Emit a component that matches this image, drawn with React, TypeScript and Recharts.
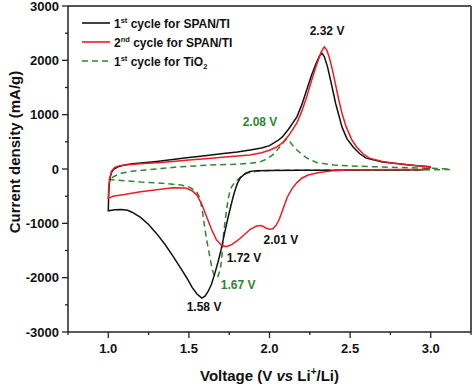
import React from "react"
import {
  LineChart,
  Line,
  XAxis,
  YAxis,
  Legend,
  ReferenceLine,
  ReferenceDot,
} from "recharts"

const FONT = '"Liberation Sans", Arial, sans-serif'

// 1st cycle SPAN/TI (cathodic 3.0 -> 1.0, then anodic 1.0 -> 3.0)
const span1Voltage = [
  3.0, 2.98, 2.95, 2.8, 2.6, 2.4, 2.2, 2.0, 1.92, 1.88, 1.85, 1.82, 1.8, 1.78, 1.76, 1.74, 1.72, 1.7, 1.68,
  1.66, 1.64, 1.62, 1.6, 1.58, 1.55, 1.52, 1.49, 1.45, 1.4, 1.35, 1.3, 1.25, 1.2, 1.15, 1.12, 1.08, 1.04, 1.0,
  1.002, 1.006, 1.012, 1.02, 1.035, 1.06, 1.1, 1.15, 1.2, 1.3, 1.4, 1.5, 1.6, 1.7, 1.8, 1.88, 1.95, 2.0,
  2.05, 2.08, 2.12, 2.17, 2.2, 2.23, 2.26, 2.29, 2.31, 2.325, 2.34, 2.36, 2.38, 2.41, 2.45, 2.48, 2.52,
  2.56, 2.6, 2.7, 2.8, 2.9, 3.0,
]
const span1Current = [
  40, 0, -15, -18, -20, -22, -25, -28, -30, -45, -80, -160, -270, -450, -680, -930, -1200, -1480, -1720,
  -1930, -2120, -2250, -2340, -2375, -2300, -2180, -2020, -1830, -1600, -1380, -1190, -1020, -890, -800,
  -760, -745, -750, -770,
  -500, -280, -150, -60, 0, 40, 72, 95, 110, 140, 175, 210, 245, 280, 315, 350, 385, 430,
  520, 590, 740, 960, 1180, 1450, 1720, 1950, 2080, 2130, 2070, 1880, 1620, 1210, 770, 560, 400,
  280, 200, 130, 95, 65, 40,
]

// 2nd cycle SPAN/TI
const span2Voltage = [
  3.0, 2.98, 2.95, 2.8, 2.6, 2.5, 2.4, 2.3, 2.24, 2.2, 2.17, 2.14, 2.11, 2.08, 2.06, 2.04, 2.02, 2.0, 1.98,
  1.95, 1.92, 1.88, 1.84, 1.8, 1.76, 1.73, 1.7, 1.67, 1.64, 1.61, 1.58, 1.55, 1.52, 1.48, 1.4, 1.3, 1.2,
  1.1, 1.03, 1.0,
  1.002, 1.008, 1.02, 1.04, 1.07, 1.12, 1.2, 1.3, 1.4, 1.5, 1.64, 1.76, 1.88, 1.95, 2.0, 2.04, 2.08,
  2.12, 2.17, 2.2, 2.23, 2.26, 2.29, 2.32, 2.34, 2.355, 2.37, 2.39, 2.41, 2.43, 2.45, 2.475, 2.51,
  2.54, 2.58, 2.62, 2.7, 2.76, 2.88, 3.0,
]
const span2Current = [
  37, 0, -8, -10, -12, -15, -30, -70, -110, -170, -250, -360, -520, -770, -930, -1040, -1100, -1110,
  -1090, -1040, -1050, -1110, -1220, -1320, -1400, -1430, -1400, -1300, -1110, -880, -650, -480, -400,
  -350, -345, -380, -420, -470, -500, -540,
  -350, -180, -40, 30, 60, 80, 95, 115, 140, 165, 200, 230, 258, 300, 345, 400, 480,
  620, 850, 1060, 1320, 1620, 1900, 2150, 2250, 2190, 2060, 1830, 1550, 1270, 1020, 780, 540,
  405, 280, 200, 140, 110, 70, 37,
]

// 1st cycle TiO2
const tioVoltage = [
  3.12, 2.9, 2.6, 2.3, 2.02, 1.92, 1.86, 1.82, 1.786, 1.765, 1.755, 1.745, 1.736, 1.725, 1.715, 1.705,
  1.695, 1.68, 1.67, 1.66, 1.65, 1.64, 1.63, 1.615, 1.6, 1.585, 1.569, 1.55, 1.53, 1.5, 1.45, 1.4, 1.33,
  1.2, 1.12, 1.05, 1.0,
  1.01, 1.023, 1.05, 1.085, 1.15, 1.23, 1.33, 1.43, 1.54, 1.64, 1.73, 1.817, 1.88, 1.94, 1.98, 2.02,
  2.05, 2.084, 2.1, 2.115, 2.13, 2.15, 2.17, 2.2, 2.233, 2.295, 2.4, 2.5, 2.7, 2.95, 3.12,
]
const tioCurrent = [
  -10, -18, -20, -22, -25, -40, -75, -150, -240, -330, -400, -530, -700, -950, -1200, -1600,
  -1850, -1980, -2000, -1970, -1900, -1780, -1620, -1380, -1120, -800, -540, -430, -380, -330, -295,
  -280, -260, -240, -220, -205, -190,
  -180, -160, -115, -75, -40, -20, 10, 37, 57, 74, 82, 90, 105, 130, 180, 258,
  360, 480, 540, 550, 490, 410, 350, 270, 200, 115, 75, 55, 37, 18, 0,
]

const xTicks = [0.75, 1.0, 1.25, 1.5, 1.75, 2.0, 2.25, 2.5, 2.75, 3.0, 3.25]
const yTicks = [-3000, -2500, -2000, -1500, -1000, -500, 0, 500, 1000, 1500, 2000, 2500, 3000]

const peakLabels = ["2.32 V", "2.08 V", "2.01 V", "1.72 V", "1.67 V", "1.58 V"]
const peakLabelV = [2.357, 1.941, 2.071, 1.842, 1.805, 1.594]
const peakLabelI = [2540, 865, -1307, -1638, -2135, -2540]
const peakLabelSeries = ["span1", "tio", "span1", "span1", "tio", "span1"]

const COLORS: Record<string, string> = {
  span1: "#111111",
  span2: "#ec1c24",
  tio: "#2e862e",
}

const zip = (v: number[], c: number[]) => v.map((x, i) => ({ v: x, i: c[i] }))

const span1Data = zip(span1Voltage, span1Current)
const span2Data = zip(span2Voltage, span2Current)
const tioData = zip(tioVoltage, tioCurrent)

function YTick({ x, y, payload }: any) {
  const major = payload.value % 1000 === 0
  return (
    <g>
      <line x1={x - (major ? 6 : 3)} x2={x} y1={y} y2={y} stroke="#222" strokeWidth={1.3} />
      {major && (
        <text x={x - 9} y={y} dy={4.5} textAnchor="end" fontSize={13} fontWeight="bold" fill="#111" fontFamily={FONT}>
          {payload.value}
        </text>
      )}
    </g>
  )
}

function XTick({ x, y, payload }: any) {
  const v = payload.value
  const major = Math.abs(v * 2 - Math.round(v * 2)) < 1e-6
  return (
    <g>
      <line x1={x} x2={x} y1={y} y2={y + (major ? 6 : 3)} stroke="#222" strokeWidth={1.3} />
      {major && (
        <text x={x} y={y + 21} textAnchor="middle" fontSize={13} fontWeight="bold" fill="#111" fontFamily={FONT}>
          {v.toFixed(1)}
        </text>
      )}
    </g>
  )
}

function XLabel({ viewBox }: any) {
  const cx = viewBox.x + viewBox.width / 2
  return (
    <text x={cx} y={viewBox.y + 49} textAnchor="middle" fontSize={15} fontWeight="bold" fill="#111" fontFamily={FONT}>
      <tspan>Voltage (V </tspan>
      <tspan fontStyle="italic">vs</tspan>
      <tspan> Li</tspan>
      <tspan dy={-6} fontSize={10}>+</tspan>
      <tspan dy={6}>/Li)</tspan>
    </text>
  )
}

function YLabel({ viewBox }: any) {
  const cx = viewBox.x + 14
  const cy = viewBox.y + viewBox.height / 2 - 17
  return (
    <text
      x={cx}
      y={cy}
      transform={`rotate(-90, ${cx}, ${cy})`}
      textAnchor="middle"
      dominantBaseline="central"
      fontSize={15}
      fontWeight="bold"
      fill="#111"
      fontFamily={FONT}
    >
      Current density (mA/g)
    </text>
  )
}

function renderLegend() {
  const rows = [
    { key: "span1", n: "1", sup: "st", text: " cycle for SPAN/TI", sub: "", dash: undefined },
    { key: "span2", n: "2", sup: "nd", text: " cycle for SPAN/TI", sub: "", dash: undefined },
    { key: "tio", n: "1", sup: "st", text: " cycle for TiO", sub: "2", dash: "6 4" },
  ]
  return (
    <svg width={170} height={62} style={{ display: "block" }}>
      {rows.map((r, k) => {
        const y = 10 + k * 19
        return (
          <g key={r.key}>
            <line x1={4} x2={32} y1={y} y2={y} stroke={COLORS[r.key]} strokeWidth={1.6} strokeDasharray={r.dash} />
            <text x={36} y={y + 4.5} fontSize={12} fontWeight="bold" fill="#111" fontFamily={FONT}>
              <tspan>{r.n}</tspan>
              <tspan dy={-5} fontSize={7.5}>{r.sup}</tspan>
              <tspan dy={5}>{r.text}</tspan>
              {r.sub && (
                <tspan dy={3} fontSize={7.5}>
                  {r.sub}
                </tspan>
              )}
            </text>
          </g>
        )
      })}
    </svg>
  )
}

export default function App() {
  return (
    <div style={{ width: 474, height: 385, background: "#fff" }}>
      <style>{`body{margin:0}`}</style>
      <LineChart width={474} height={385} margin={{ top: 6, right: 3, bottom: 0, left: 0 }}>
        <XAxis
          dataKey="v"
          type="number"
          domain={[0.75, 3.25]}
          ticks={xTicks}
          interval={0}
          allowDataOverflow
          height={53}
          tickSize={0}
          tickMargin={0}
          tickLine={false}
          tick={<XTick />}
          axisLine={{ stroke: "#222", strokeWidth: 1.5 }}
          label={<XLabel />}
        />
        <YAxis
          type="number"
          domain={[-3000, 3000]}
          ticks={yTicks}
          interval={0}
          allowDataOverflow
          width={68}
          tickSize={0}
          tickMargin={0}
          tickLine={false}
          tick={<YTick />}
          axisLine={{ stroke: "#222", strokeWidth: 1.5 }}
          label={<YLabel />}
        />
        <ReferenceLine y={3000} stroke="#555" strokeWidth={2} />
        <ReferenceLine x={3.25} stroke="#555" strokeWidth={2} />
        <Legend
          layout="vertical"
          align="center"
          verticalAlign="middle"
          content={renderLegend}
          wrapperStyle={{ top: 13, left: 78, width: 170, height: 62 }}
        />
        <Line
          data={tioData}
          dataKey="i"
          type="linear"
          stroke={COLORS.tio}
          strokeWidth={1.5}
          strokeDasharray="6 4"
          dot={false}
          isAnimationActive={false}
        />
        <Line
          data={span1Data}
          dataKey="i"
          type="linear"
          stroke={COLORS.span1}
          strokeWidth={1.5}
          dot={false}
          isAnimationActive={false}
        />
        <Line
          data={span2Data}
          dataKey="i"
          type="linear"
          stroke={COLORS.span2}
          strokeWidth={1.5}
          dot={false}
          isAnimationActive={false}
        />
        {peakLabels.map((t, k) => (
          <ReferenceDot
            key={t}
            x={peakLabelV[k]}
            y={peakLabelI[k]}
            r={0}
            fill="none"
            stroke="none"
            label={{
              value: t,
              position: "center",
              fill: COLORS[peakLabelSeries[k]],
              fontSize: 12,
              fontWeight: "bold",
              fontFamily: FONT,
            }}
          />
        ))}
      </LineChart>
    </div>
  )
}
